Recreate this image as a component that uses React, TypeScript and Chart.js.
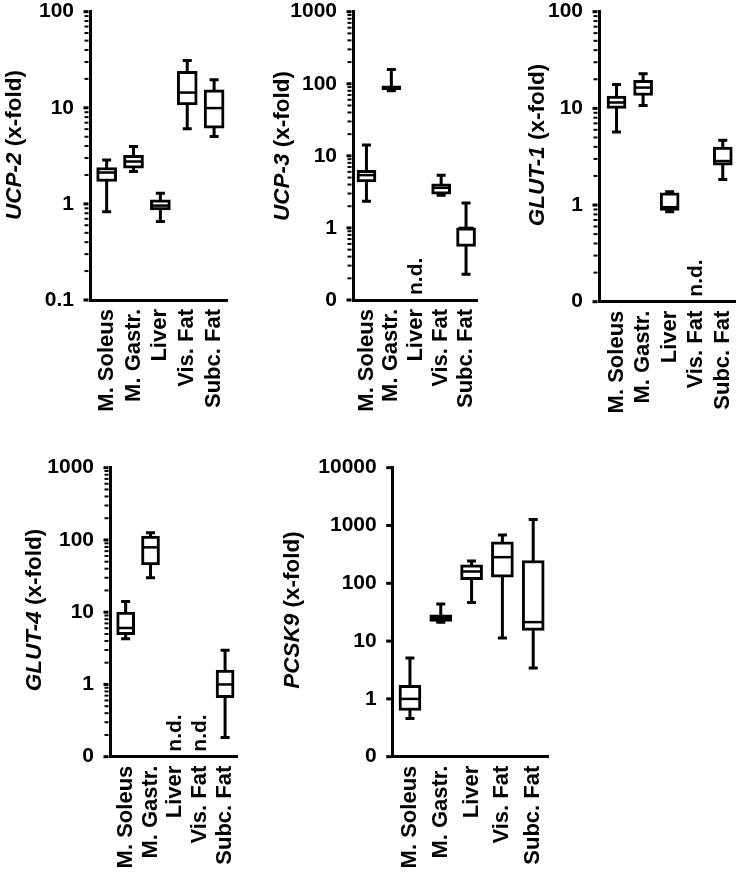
import React, { useEffect, useRef } from "react";
import { Chart, registerables } from "chart.js";

Chart.register(...registerables);

const CATEGORIES = ["M. Soleus", "M. Gastr.", "Liver", "Vis. Fat", "Subc. Fat"];

// Each box: [min, q1, median, q3, max]; null = n.d.
const UCP2_BOXES: (number[] | null)[] = [
  [0.83, 1.71, 2.12, 2.39, 2.87],
  [2.17, 2.35, 2.76, 3.21, 3.96],
  [0.655, 0.866, 0.96, 1.1, 1.29],
  [6.04, 10.7, 14.4, 23.9, 31.1],
  [5.03, 6.14, 9.93, 15.4, 19.6],
];
const UCP3_BOXES: (number[] | null)[] = [
  [2.35, 4.35, 5.4, 6.3, 14.1],
  [80, 82, 88, 94, 158],
  null,
  [2.85, 2.94, 3.6, 4.1, 5.4],
  [0.227, 0.556, 1.0, 1.0, 2.22],
];
const GLUT1_BOXES: (number[] | null)[] = [
  [5.7, 10, 11.5, 13.4, 17.7],
  [10.7, 13.6, 16.4, 19.5, 22.8],
  [0.85, 0.88, 0.95, 1.34, 1.37],
  null,
  [1.84, 2.59, 2.85, 3.98, 4.67],
];
const GLUT4_BOXES: (number[] | null)[] = [
  [4.3, 4.9, 6.05, 10, 14.1],
  [30, 45, 79, 113, 126],
  null,
  null,
  [0.184, 0.655, 1.0, 1.58, 2.98],
];
const PCSK9_BOXES: (number[] | null)[] = [
  [0.46, 0.63, 1.0, 1.72, 5.1],
  [21.2, 21.9, 25, 28.6, 43.7],
  [46.7, 115, 160, 208, 244],
  [11.3, 128, 283, 521, 688],
  [3.43, 15.3, 21.3, 248, 1265],
];

const UCP2_TICK_VALUES = [0.1, 1, 10, 100];
const UCP2_TICK_LABELS = ["0.1", "1", "10", "100"];
const UCP3_TICK_VALUES = [0.1, 1, 10, 100, 1000];
const UCP3_TICK_LABELS = ["0", "1", "10", "100", "1000"];
const GLUT1_TICK_VALUES = [0.1, 1, 10, 100];
const GLUT1_TICK_LABELS = ["0", "1", "10", "100"];
const GLUT4_TICK_VALUES = [0.1, 1, 10, 100, 1000];
const GLUT4_TICK_LABELS = ["0", "1", "10", "100", "1000"];
const PCSK9_TICK_VALUES = [0.1, 1, 10, 100, 1000, 10000];
const PCSK9_TICK_LABELS = ["0", "1", "10", "100", "1000", "10000"];

const FONT = '"Liberation Sans", Arial, Helvetica, sans-serif';

type Panel = {
  gene: string;
  boxes: (number[] | null)[];
  tickValues: number[];
  tickLabels: string[];
  minor: boolean;
  canvas: { x: number; y: number; w: number; h: number };
  area: { l: number; t: number; r: number; b: number };
  xRange: [number, number];
  bar: number;
  title: { x: number; y: number };
};

const PANELS: Panel[] = [
  {
    gene: "UCP-2",
    boxes: UCP2_BOXES,
    tickValues: UCP2_TICK_VALUES,
    tickLabels: UCP2_TICK_LABELS,
    minor: true,
    canvas: { x: 0, y: 0, w: 240, h: 430 },
    area: { l: 90, t: 11.7, r: 227, b: 300 },
    xRange: [-0.62, 4.48],
    bar: 20,
    title: { x: 15, y: 145 },
  },
  {
    gene: "UCP-3",
    boxes: UCP3_BOXES,
    tickValues: UCP3_TICK_VALUES,
    tickLabels: UCP3_TICK_LABELS,
    minor: true,
    canvas: { x: 240, y: 0, w: 250, h: 430 },
    area: { l: 353, t: 11.7, r: 477, b: 300 },
    xRange: [-0.54, 4.44],
    bar: 19,
    title: { x: 283, y: 146 },
  },
  {
    gene: "GLUT-1",
    boxes: GLUT1_BOXES,
    tickValues: GLUT1_TICK_VALUES,
    tickLabels: GLUT1_TICK_LABELS,
    minor: true,
    canvas: { x: 490, y: 0, w: 249, h: 430 },
    area: { l: 599, t: 11.7, r: 735, b: 301.7 },
    xRange: [-0.66, 4.46],
    bar: 19,
    title: { x: 538, y: 145 },
  },
  {
    gene: "GLUT-4",
    boxes: GLUT4_BOXES,
    tickValues: GLUT4_TICK_VALUES,
    tickLabels: GLUT4_TICK_LABELS,
    minor: true,
    canvas: { x: 0, y: 430, w: 250, h: 446 },
    area: { l: 110, t: 467.7, r: 237, b: 756.7 },
    xRange: [-0.63, 4.48],
    bar: 18,
    title: { x: 35, y: 610 },
  },
  {
    gene: "PCSK9",
    boxes: PCSK9_BOXES,
    tickValues: PCSK9_TICK_VALUES,
    tickLabels: PCSK9_TICK_LABELS,
    minor: false,
    canvas: { x: 250, y: 430, w: 310, h: 446 },
    area: { l: 392.7, t: 467.7, r: 548, b: 756.7 },
    xRange: [-0.56, 4.48],
    bar: 22,
    title: { x: 293, y: 610 },
  },
];

function makePlugin(p: Panel) {
  return {
    id: "boxplot_" + p.gene,
    beforeDatasetsDraw(chart: any) {
      const ctx = chart.ctx;
      const xs = chart.scales.x;
      const ys = chart.scales.y;
      ctx.save();
      ctx.strokeStyle = "#000";
      ctx.lineWidth = 3;
      ctx.lineCap = "butt";
      p.boxes.forEach((b, i) => {
        if (!b) return;
        const x = xs.getPixelForValue(i);
        const yMin = ys.getPixelForValue(b[0]);
        const yMax = ys.getPixelForValue(b[4]);
        ctx.beginPath();
        ctx.moveTo(x, yMin);
        ctx.lineTo(x, yMax);
        ctx.moveTo(x - 4.5, yMin);
        ctx.lineTo(x + 4.5, yMin);
        ctx.moveTo(x - 4.5, yMax);
        ctx.lineTo(x + 4.5, yMax);
        ctx.stroke();
      });
      ctx.restore();
    },
    afterDatasetsDraw(chart: any) {
      const ctx = chart.ctx;
      const xs = chart.scales.x;
      const ys = chart.scales.y;
      const area = chart.chartArea;
      ctx.save();
      ctx.strokeStyle = "#000";
      ctx.lineWidth = 2.5;
      p.boxes.forEach((b, i) => {
        const x = xs.getPixelForValue(i);
        if (!b) {
          ctx.save();
          ctx.translate(x, area.bottom - 5);
          ctx.rotate(-Math.PI / 2);
          ctx.fillStyle = "#000";
          ctx.font = `bold 21px ${FONT}`;
          ctx.textAlign = "left";
          ctx.textBaseline = "middle";
          ctx.fillText("n.d.", 0, 0);
          ctx.restore();
          return;
        }
        const y = ys.getPixelForValue(b[2]);
        ctx.beginPath();
        ctx.moveTo(x - p.bar / 2 + 2, y);
        ctx.lineTo(x + p.bar / 2 - 2, y);
        ctx.stroke();
      });
      ctx.restore();
    },
    afterDraw(chart: any) {
      const ctx = chart.ctx;
      const ys = chart.scales.y;
      const area = chart.chartArea;
      const x0 = area.left - 1.5;
      ctx.save();
      ctx.strokeStyle = "#000";
      ctx.lineWidth = 3;
      p.tickValues.forEach((v) => {
        const y = ys.getPixelForValue(v);
        ctx.beginPath();
        ctx.moveTo(x0, y);
        ctx.lineTo(x0 - 5, y);
        ctx.stroke();
      });
      if (p.minor) {
        ctx.lineWidth = 2;
        for (let d = 0; d < p.tickValues.length - 1; d++) {
          const dec = p.tickValues[d];
          for (let k = 2; k <= 9; k++) {
            const y = ys.getPixelForValue(k * dec);
            ctx.beginPath();
            ctx.moveTo(x0, y);
            ctx.lineTo(x0 - 4, y);
            ctx.stroke();
          }
        }
      }
      const tx = p.title.x - p.canvas.x;
      const ty = p.title.y - p.canvas.y;
      ctx.translate(tx, ty);
      ctx.rotate(-Math.PI / 2);
      const f1 = `italic bold 22.5px ${FONT}`;
      const f2 = `bold 22.5px ${FONT}`;
      const part2 = " (x-fold)";
      ctx.font = f1;
      const w1 = ctx.measureText(p.gene).width;
      ctx.font = f2;
      const w2 = ctx.measureText(part2).width;
      const start = -(w1 + w2) / 2;
      ctx.fillStyle = "#000";
      ctx.textBaseline = "middle";
      ctx.textAlign = "left";
      ctx.font = f1;
      ctx.fillText(p.gene, start, 0);
      ctx.font = f2;
      ctx.fillText(part2, start + w1, 0);
      ctx.restore();
    },
  };
}

function zeroPad(s: any) {
  s.paddingLeft = 0;
  s.paddingRight = 0;
  s.paddingTop = 0;
  s.paddingBottom = 0;
}

function BoxPanel({ p }: { p: Panel }) {
  const ref = useRef<HTMLCanvasElement | null>(null);
  useEffect(() => {
    if (!ref.current) return;
    const data = p.boxes
      .map((b, i) => (b ? { x: i, y: [b[1], b[3]] } : null))
      .filter((d) => d !== null);
    const chart = new Chart(ref.current, {
      type: "bar",
      data: {
        datasets: [
          {
            data: data as any,
            backgroundColor: "#ffffff",
            borderColor: "#000000",
            borderWidth: 3,
            borderSkipped: false,
            barThickness: p.bar,
          } as any,
        ],
      },
      options: {
        animation: false,
        responsive: false,
        maintainAspectRatio: false,
        layout: {
          padding: {
            left: 0,
            top: p.area.t - p.canvas.y,
            right: p.canvas.x + p.canvas.w - p.area.r,
            bottom: 0,
          },
        },
        plugins: {
          legend: { display: false },
          tooltip: { enabled: false },
        },
        scales: {
          x: {
            type: "linear",
            offset: false,
            min: p.xRange[0],
            max: p.xRange[1],
            grid: { display: false, drawTicks: false, offset: false },
            border: { display: true, width: 3, color: "#000" },
            afterBuildTicks: (s: any) => {
              s.ticks = CATEGORIES.map((_, i) => ({ value: i }));
            },
            afterFit: (s: any) => {
              s.height = p.canvas.y + p.canvas.h - p.area.b;
              zeroPad(s);
            },
            ticks: {
              autoSkip: false,
              minRotation: 90,
              maxRotation: 90,
              padding: 9,
              color: "#000",
              font: { family: FONT, size: 22, weight: "bold" },
              callback: (v: any) => CATEGORIES[Math.round(Number(v))] ?? "",
            },
          },
          y: {
            type: "logarithmic",
            min: p.tickValues[0],
            max: p.tickValues[p.tickValues.length - 1],
            grid: { display: false, drawTicks: false },
            border: { display: true, width: 3, color: "#000" },
            afterBuildTicks: (s: any) => {
              s.ticks = p.tickValues.map((v) => ({ value: v }));
            },
            afterFit: (s: any) => {
              s.width = p.area.l - p.canvas.x;
              zeroPad(s);
            },
            ticks: {
              autoSkip: false,
              padding: 16,
              color: "#000",
              font: { family: FONT, size: 21, weight: "bold" },
              callback: (_v: any, i: number) => p.tickLabels[i] ?? "",
            },
          },
        },
      } as any,
      plugins: [makePlugin(p)],
    });
    return () => chart.destroy();
  }, [p]);
  return (
    <canvas
      ref={ref}
      width={p.canvas.w}
      height={p.canvas.h}
      style={{
        position: "absolute",
        left: p.canvas.x,
        top: p.canvas.y,
        width: p.canvas.w,
        height: p.canvas.h,
      }}
    />
  );
}

export default function App() {
  return (
    <div
      style={{
        position: "absolute",
        left: 0,
        top: 0,
        width: 739,
        height: 876,
        background: "#fff",
        overflow: "hidden",
      }}
    >
      {PANELS.map((p) => (
        <BoxPanel key={p.gene} p={p} />
      ))}
    </div>
  );
}
